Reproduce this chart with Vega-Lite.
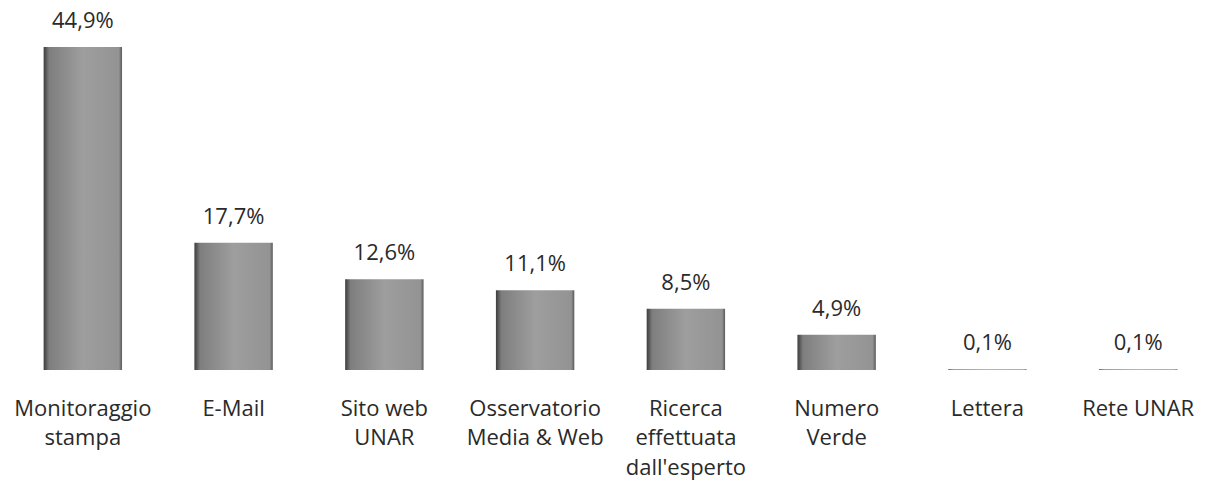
{
  "$schema": "https://vega.github.io/schema/vega-lite/v6.json",
  "autosize": "none",
  "width": 1191,
  "height": 370,
  "padding": {"left": 15, "top": 0, "right": 0, "bottom": 116},
  "background": "white",
  "config": {"view": {"stroke": null}, "font": "Open Sans"},
  "data": {
    "values": [
      {"canale": "Monitoraggio|stampa", "valore": 44.9, "etichetta": "44,9%"},
      {"canale": "E-Mail", "valore": 17.7, "etichetta": "17,7%"},
      {"canale": "Sito web|UNAR", "valore": 12.6, "etichetta": "12,6%"},
      {"canale": "Osservatorio|Media & Web", "valore": 11.1, "etichetta": "11,1%"},
      {"canale": "Ricerca|effettuata|dall'esperto", "valore": 8.5, "etichetta": "8,5%"},
      {"canale": "Numero|Verde", "valore": 4.9, "etichetta": "4,9%"},
      {"canale": "Lettera", "valore": 0.1, "etichetta": "0,1%"},
      {"canale": "Rete UNAR", "valore": 0.1, "etichetta": "0,1%"}
    ]
  },
  "encoding": {
    "x": {
      "field": "canale",
      "type": "nominal",
      "sort": null,
      "scale": {"paddingInner": 0.48, "paddingOuter": 0.19},
      "axis": {
        "title": null,
        "domain": false,
        "ticks": false,
        "labelAngle": 0,
        "labelExpr": "split(datum.label, '|')",
        "labelFont": "Open Sans",
        "labelFontSize": 22,
        "labelColor": "#2a2a2a",
        "labelPadding": 28,
        "labelBaseline": "top",
        "labelLineHeight": 29.5,
        "labelLimit": 0
      }
    },
    "y": {
      "field": "valore",
      "type": "quantitative",
      "scale": {"domain": [0, 51.43], "nice": false, "zero": true},
      "axis": null
    }
  },
  "layer": [
    {
      "mark": {
        "type": "bar",
        "color": {
          "gradient": "linear",
          "x1": 0, "y1": 0, "x2": 1, "y2": 0,
          "stops": [
            {"offset": 0, "color": "#3c3c3c"},
            {"offset": 0.07, "color": "#7e7e7e"},
            {"offset": 0.5, "color": "#9e9e9e"},
            {"offset": 0.96, "color": "#939393"},
            {"offset": 1, "color": "#5a5a5a"}
          ]
        }
      }
    },
    {
      "mark": {
        "type": "text",
        "font": "Open Sans",
        "fontSize": 22,
        "color": "#2a2a2a",
        "baseline": "alphabetic",
        "dy": -19
      },
      "encoding": {"text": {"field": "etichetta"}}
    }
  ]
}
